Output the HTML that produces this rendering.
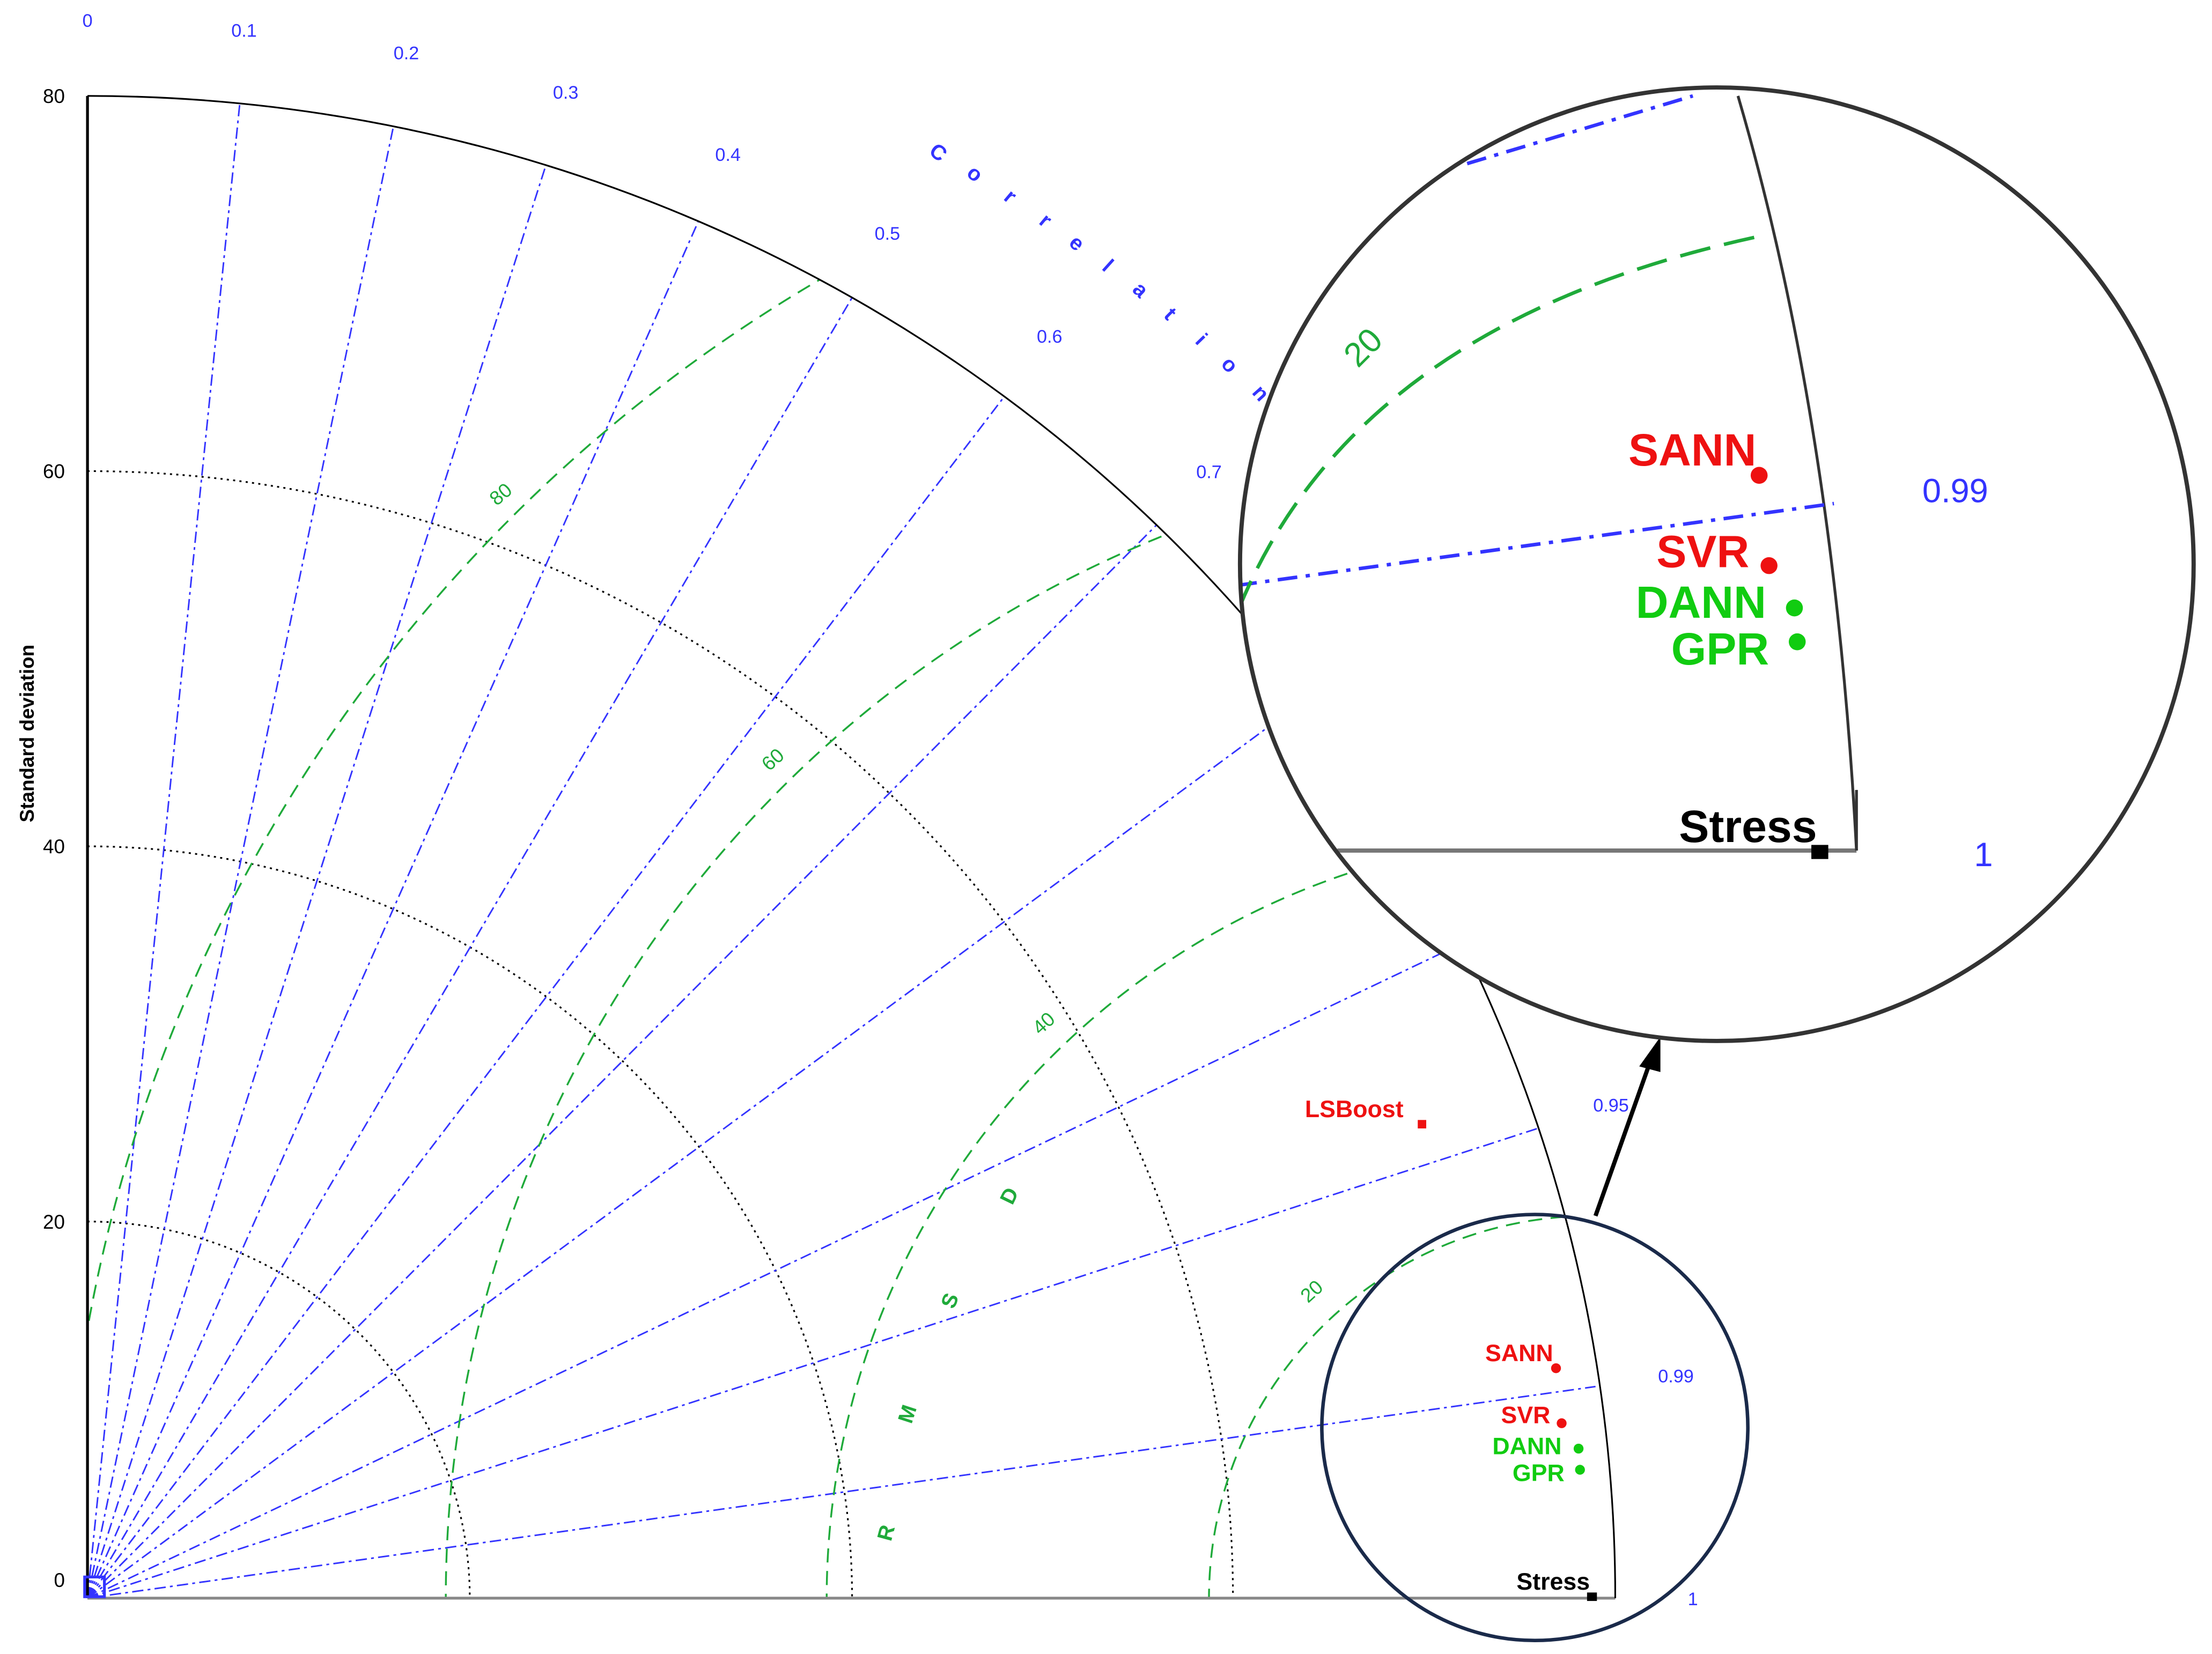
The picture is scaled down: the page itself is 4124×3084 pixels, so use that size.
<!DOCTYPE html>
<html><head><meta charset="utf-8"><style>
html,body{margin:0;padding:0;background:#fff;overflow:hidden;width:4124px;height:3084px;}
svg{display:block;}
text{font-family:"Liberation Sans",sans-serif;}
</style></head><body>
<svg width="4124" height="3084" viewBox="0 0 1568 1172.6" xmlns="http://www.w3.org/2000/svg">
<defs>
<clipPath id="quad"><path d="M62,1133 L62,68 A1083,1065 0 0 1 1145,1133 Z"/></clipPath>
<clipPath id="zc"><circle cx="1217" cy="400" r="338"/></clipPath>
</defs>
<rect width="1568" height="1173" fill="#fff"/>
<g fill="none" stroke="#000" stroke-width="1.2" stroke-dasharray="1.5,3">
<path d="M62,866 A271,267 0 0 1 333,1133"/>
<path d="M62,600 A542,533 0 0 1 604,1133"/>
<path d="M62,334 A812,799 0 0 1 874,1133"/>
</g>
<g stroke="#3333ff" stroke-width="1.1" stroke-dasharray="8,3,2,3" fill="none">
<line x1="62" y1="1133" x2="170" y2="73"/>
<line x1="62" y1="1133" x2="279" y2="89"/>
<line x1="62" y1="1133" x2="387" y2="117"/>
<line x1="62" y1="1133" x2="495" y2="157"/>
<line x1="62" y1="1133" x2="604" y2="211"/>
<line x1="62" y1="1133" x2="712" y2="281"/>
<line x1="62" y1="1133" x2="820" y2="372"/>
<line x1="62" y1="1133" x2="928" y2="494"/>
<line x1="62" y1="1133" x2="1036" y2="669"/>
<line x1="62" y1="1133" x2="1090" y2="800"/>
<line x1="62" y1="1133" x2="1131" y2="983"/>
</g>
<g clip-path="url(#quad)" fill="none" stroke="#1faa3a" stroke-width="1.3" stroke-dasharray="10,6">
<circle cx="1128" cy="1133" r="271"/>
<circle cx="1128" cy="1133" r="542"/>
<circle cx="1128" cy="1133" r="812"/>
<circle cx="1128" cy="1133" r="1083"/>
</g>
<line x1="62" y1="68" x2="62" y2="1133" stroke="#000" stroke-width="2"/>
<line x1="62" y1="1133" x2="1145" y2="1133" stroke="#888" stroke-width="2"/>
<path d="M62,68 A1083,1065 0 0 1 1145,1133" fill="none" stroke="#000" stroke-width="1.2"/>
<rect x="60" y="1118" width="14" height="14" fill="none" stroke="#3333ff" stroke-width="2"/>
<g font-size="14" text-anchor="end" fill="#000">
<text x="46" y="73">80</text><text x="46" y="339">60</text><text x="46" y="605">40</text><text x="46" y="871">20</text><text x="46" y="1125">0</text>
</g>
<text transform="translate(24,520) rotate(-90)" font-size="14" font-weight="bold" text-anchor="middle">Standard deviation</text>
<g font-size="13" fill="#3333ff" text-anchor="middle">
<text x="62" y="19">0</text><text x="173" y="26">0.1</text><text x="288" y="42">0.2</text><text x="401" y="70">0.3</text><text x="516" y="114">0.4</text><text x="629" y="170">0.5</text><text x="744" y="243">0.6</text><text x="857" y="339">0.7</text><text x="1142" y="788">0.95</text><text x="1188" y="980">0.99</text><text x="1200" y="1138">1</text>
</g>
<g font-size="15" font-weight="bold" fill="#3333ff" text-anchor="middle">
<text transform="translate(662,112) rotate(38)">C</text>
<text transform="translate(688,127) rotate(38)">o</text>
<text transform="translate(713,143) rotate(40)">r</text>
<text transform="translate(738,160) rotate(40)">r</text>
<text transform="translate(760,176) rotate(42)">e</text>
<text transform="translate(782,192) rotate(42)">l</text>
<text transform="translate(805,209) rotate(44)">a</text>
<text transform="translate(826,226) rotate(45)">t</text>
<text transform="translate(848,244) rotate(46)">i</text>
<text transform="translate(868,262) rotate(47)">o</text>
<text transform="translate(890,282) rotate(48)">n</text>
</g>
<g font-size="14" fill="#1faa3a" text-anchor="middle">
<text transform="translate(358,354) rotate(-40)">80</text>
<text transform="translate(551,542) rotate(-42)">60</text>
<text transform="translate(743,729) rotate(-42)">40</text>
<text transform="translate(933,919) rotate(-42)">20</text>
</g>
<g font-size="15" font-weight="bold" fill="#1faa3a" text-anchor="middle">
<text transform="translate(633,1088) rotate(-75)">R</text>
<text transform="translate(648,1004) rotate(-72)">M</text>
<text transform="translate(678,924) rotate(-68)">S</text>
<text transform="translate(720,850) rotate(-64)">D</text>
</g>
<rect x="1005" y="794" width="6" height="6" fill="#ee1111"/>
<text x="925" y="792" font-size="17" font-weight="bold" fill="#ee1111">LSBoost</text>
<circle cx="1088" cy="1012" r="151" fill="none" stroke="#1a2a4a" stroke-width="2.5"/>
<g font-size="17" font-weight="bold" text-anchor="end">
<text x="1101" y="965" fill="#ee1111">SANN</text>
<text x="1099" y="1009" fill="#ee1111">SVR</text>
<text x="1107" y="1031" fill="#11cc11">DANN</text>
<text x="1109" y="1050" fill="#11cc11">GPR</text>
<text x="1127" y="1127" fill="#000">Stress</text>
</g>
<circle cx="1103" cy="970" r="3.5" fill="#ee1111"/>
<circle cx="1107" cy="1009" r="3.5" fill="#ee1111"/>
<circle cx="1119" cy="1027" r="3.5" fill="#11cc11"/>
<circle cx="1120" cy="1042" r="3.5" fill="#11cc11"/>
<rect x="1125" y="1129" width="7" height="6" fill="#000"/>
<line x1="1131" y1="862" x2="1170" y2="752" stroke="#000" stroke-width="3"/>
<polygon points="1177,735 1162,756 1177,760" fill="#000"/>
<circle cx="1217" cy="400" r="338" fill="#fff"/>
<g clip-path="url(#zc)">
<path d="M1232,68 Q1300,300 1316,603" fill="none" stroke="#333" stroke-width="2"/>
<line x1="948" y1="603" x2="1316" y2="603" stroke="#777" stroke-width="3"/>
<line x1="1316" y1="603" x2="1316" y2="560" stroke="#333" stroke-width="2"/>
<line x1="877" y1="415" x2="1300" y2="357" stroke="#3333ff" stroke-width="2.5" stroke-dasharray="14,6,3,6"/>
<line x1="1040" y1="116" x2="1200" y2="68" stroke="#3333ff" stroke-width="2.5" stroke-dasharray="14,6,3,6"/>
<path d="M878,432 Q960,230 1245,168" fill="none" stroke="#1faa3a" stroke-width="2.5" stroke-dasharray="22,10"/>
</g>
<circle cx="1217" cy="400" r="338" fill="none" stroke="#333" stroke-width="3"/>
<text transform="translate(972,252) rotate(-45)" font-size="24" fill="#1faa3a" text-anchor="middle">20</text>
<g font-size="32" font-weight="bold" text-anchor="end">
<text x="1245" y="330" fill="#ee1111">SANN</text>
<text x="1240" y="402" fill="#ee1111">SVR</text>
<text x="1252" y="438" fill="#11cc11">DANN</text>
<text x="1254" y="471" fill="#11cc11">GPR</text>
<text x="1288" y="597" fill="#000">Stress</text>
</g>
<circle cx="1247" cy="337" r="6" fill="#ee1111"/>
<circle cx="1254" cy="401" r="6" fill="#ee1111"/>
<circle cx="1272" cy="431" r="6" fill="#11cc11"/>
<circle cx="1274" cy="455" r="6" fill="#11cc11"/>
<rect x="1284" y="599" width="12" height="10" fill="#000"/>
<text x="1386" y="356" font-size="24" fill="#3333ff" text-anchor="middle">0.99</text>
<text x="1406" y="614" font-size="24" fill="#3333ff" text-anchor="middle">1</text>
</svg>
</body></html>
